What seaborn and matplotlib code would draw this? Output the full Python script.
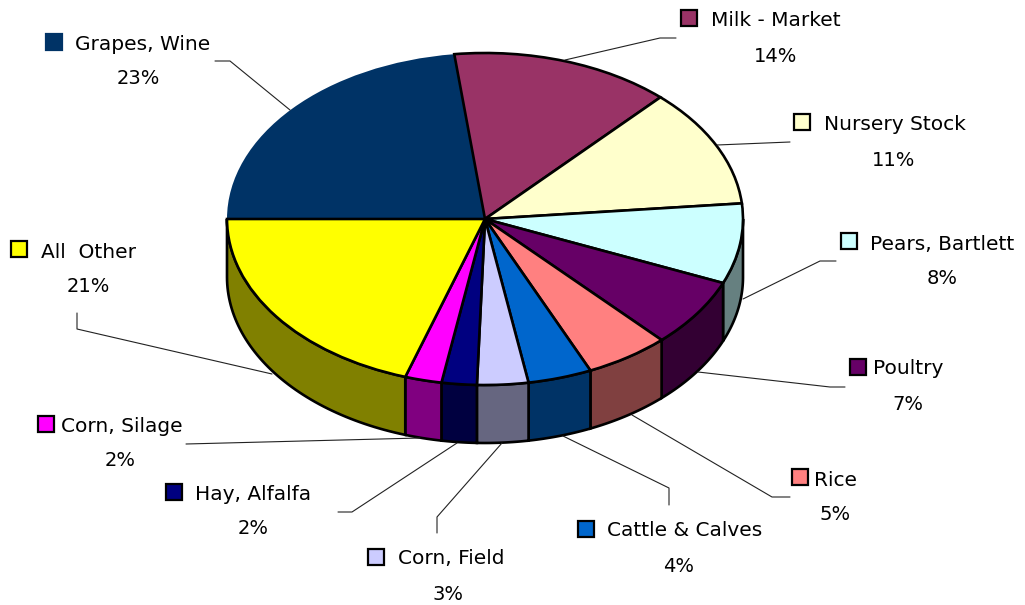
import numpy as np
import matplotlib
matplotlib.use('Agg')
import matplotlib.pyplot as plt
from matplotlib.patches import Rectangle
import seaborn as sns

# chart data
labels = ['Grapes, Wine', 'Milk - Market', 'Nursery Stock', 'Pears, Bartlett', 'Poultry', 'Rice',
          'Cattle & Calves', 'Corn, Field', 'Hay, Alfalfa', 'Corn, Silage', 'All  Other']
# printed percentages
percents = [23, 14, 11, 8, 7, 5, 4, 3, 2, 2, 21]
# slice sizes as they look on the tilted pie, read from the slice corners
slice_sizes = [23.1, 13.8, 11.6, 7.8, 6.7, 5.3, 4.0, 3.2, 2.2, 2.3, 20.0]
top_colors = ['#003366', '#993366', '#FFFFCC', '#CCFFFF', '#660066', '#FF8080',
              '#0066CC', '#CCCCFF', '#000080', '#FF00FF', '#FFFF00']
side_colors = ['#001933', '#4D1933', '#808066', '#668080', '#330033', '#804040',
               '#003366', '#666680', '#000040', '#800080', '#808000']

# layout in picture pixels: marker left/top, text left/y, percent x/y, leader line
layout = {
    'Grapes, Wine': (46, 34, 75, 44, 138, 79, [(215, 61), (230, 61), (290, 110)]),
    'Milk - Market': (681, 10, 711, 21, 776, 56, [(676, 38), (660, 38), (565, 60)]),
    'Nursery Stock': (794, 114, 824, 125, 894, 161, [(790, 142), (717, 145)]),
    'Pears, Bartlett': (841, 233, 870, 244, 942, 279, [(836, 261), (820, 261), (743, 299)]),
    'Poultry': (850, 359, 873, 369, 908, 404, [(845, 387), (830, 387), (698, 372)]),
    'Rice': (792, 469, 814, 480, 835, 515, [(790, 497), (772, 497), (632, 415)]),
    'Cattle & Calves': (578, 521, 607, 531, 679, 566, [(669, 505), (669, 488), (563, 436)]),
    'Corn, Field': (368, 549, 398, 559, 448, 594, [(437, 533), (437, 517), (502, 443)]),
    'Hay, Alfalfa': (166, 484, 195, 494, 253, 529, [(338, 512), (352, 512), (457, 443)]),
    'Corn, Silage': (38, 416, 61, 427, 120, 461, [(186, 444), (420, 438)]),
    'All  Other': (11, 241, 41, 252, 88, 286, [(77, 313), (77, 329), (272, 374)]),
}

sns.set_theme(style='white')
plt.rcParams['font.family'] = ['DejaVu Sans']

W, H = 1025, 605
cx, cy, rx, ry, depth = 485, 219, 258, 166, 58

fig = plt.figure(figsize=(W / 100, H / 100), dpi=100, facecolor='white')
ax = fig.add_axes([0, 0, 1, 1])

# top face
wedges, _ = ax.pie(slice_sizes, colors=sns.color_palette(top_colors), startangle=180, counterclock=False,
                   radius=1, normalize=True, wedgeprops={'edgecolor': 'black', 'linewidth': 1.9})
wedges[0].set_linewidth(0)
ax.set_aspect('auto')
ax.set_xlim(-cx / rx, (W - cx) / rx)
ax.set_ylim(-(H - cy) / ry, cy / ry)
ax.axis('off')

# side wall, only the front half of the ellipse shows
d = depth / ry
for w, col in zip(wedges, side_colors):
    a1, a2 = max(w.theta1, -180), min(w.theta2, 0)
    if a2 <= a1:
        continue
    t = np.radians(np.linspace(a1, a2, 60))
    xs = np.r_[np.cos(t), np.cos(t[::-1])]
    ys = np.r_[np.sin(t), np.sin(t[::-1]) - d]
    ax.fill(xs, ys, facecolor=col, edgecolor='black', linewidth=1.9, zorder=0.5)

# labels and leader lines on a pixel overlay
ov = fig.add_axes([0, 0, 1, 1], facecolor='none')
ov.set_xlim(0, W)
ov.set_ylim(H, 0)
ov.axis('off')
for name, pct, col in zip(labels, percents, top_colors):
    mx, my, tx, ty, px, py, line = layout[name]
    ov.add_patch(Rectangle((mx, my), 16, 16, facecolor=col,
                           edgecolor=col if name == 'Grapes, Wine' else 'black', linewidth=1.6))
    ov.text(tx, ty, name, fontsize=14.5, color='black', ha='left', va='center')
    ov.text(px, py, f'{pct}%', fontsize=14, color='black', ha='center', va='center')
    lx, ly = zip(*line)
    ov.plot(lx, ly, color='#222222', linewidth=0.8)

fig.savefig('out.png', dpi=100)
